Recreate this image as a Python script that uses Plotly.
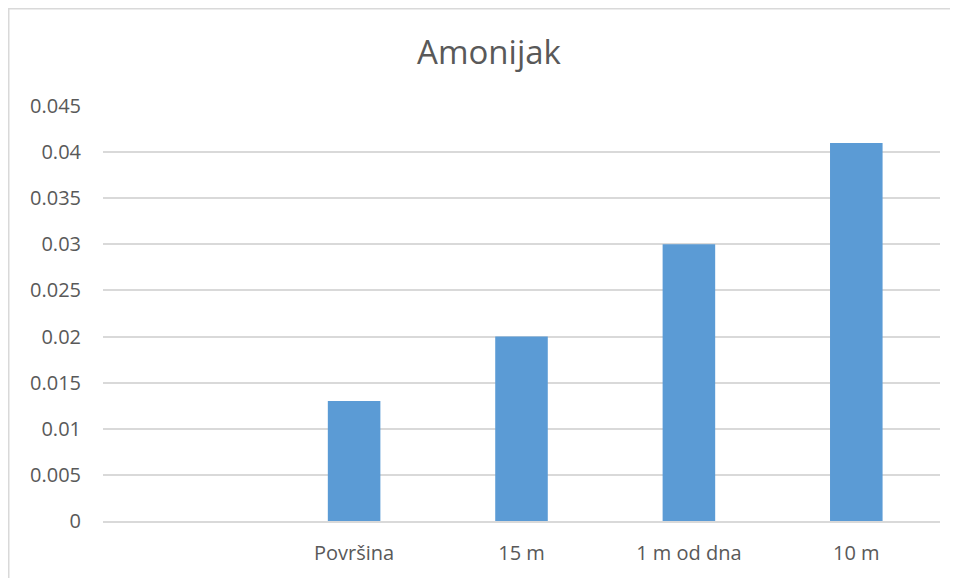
import plotly.graph_objects as go

categories = [" ", "Površina", "15 m", "1 m od dna", "10 m"]
values = [None, 0.013, 0.02, 0.03, 0.041]
tick_vals = [0, 0.005, 0.01, 0.015, 0.02, 0.025, 0.03, 0.035, 0.04, 0.045]
tick_text = ["0", "0.005", "0.01", "0.015", "0.02", "0.025", "0.03", "0.035", "0.04", "0.045"]

# page body has an 8px margin; figure is placed at (8, 8)
OFF = 8
W, H = 950, 570
L, T = 103 - OFF, 106 - OFF
R = W - (940 - OFF)
B = H - (521 - OFF)
pw, ph = W - L - R, H - T - B

fig = go.Figure(go.Bar(x=categories, y=values, marker=dict(color="#5b9bd5", line=dict(width=0))))

font = "Open Sans, Liberation Sans, sans-serif"
fig.update_layout(
    width=W, height=H,
    margin=dict(l=L, r=R, t=T, b=B),
    paper_bgcolor="white", plot_bgcolor="white",
    bargap=0.686,
    showlegend=False,
    title=dict(text="Amonijak", x=(489 - OFF) / W, xref="container", xanchor="center",
               y=1 - (52 - OFF) / H, yref="container", yanchor="middle",
               font=dict(family=font, size=33, color="#595959")),
    font=dict(family=font, size=20, color="#595959"),
)
fig.update_xaxes(type="category", showgrid=False, showline=True, linecolor="#d9d9d9", linewidth=2,
                 ticks="", tickfont=dict(size=20, color="#595959"), ticklabelstandoff=13)
fig.update_yaxes(range=[0, 0.045], tickvals=tick_vals, ticktext=tick_text, showgrid=True,
                 gridcolor="#d9d9d9", gridwidth=1.5, zeroline=False, showline=False, ticks="",
                 tickfont=dict(size=20, color="#595959"), ticklabelstandoff=21)

# chart border (top-left corner visible)
x0 = (0.75 - L) / pw
y1 = 1 + (T - 0.75) / ph
fig.add_shape(type="rect", xref="paper", yref="paper", x0=x0, x1=1 + (R + 20) / pw,
              y0=-(B + 20) / ph, y1=y1, line=dict(color="#d9d9d9", width=1.5), fillcolor="rgba(0,0,0,0)",
              layer="below")

fig.write_html("out.html")
